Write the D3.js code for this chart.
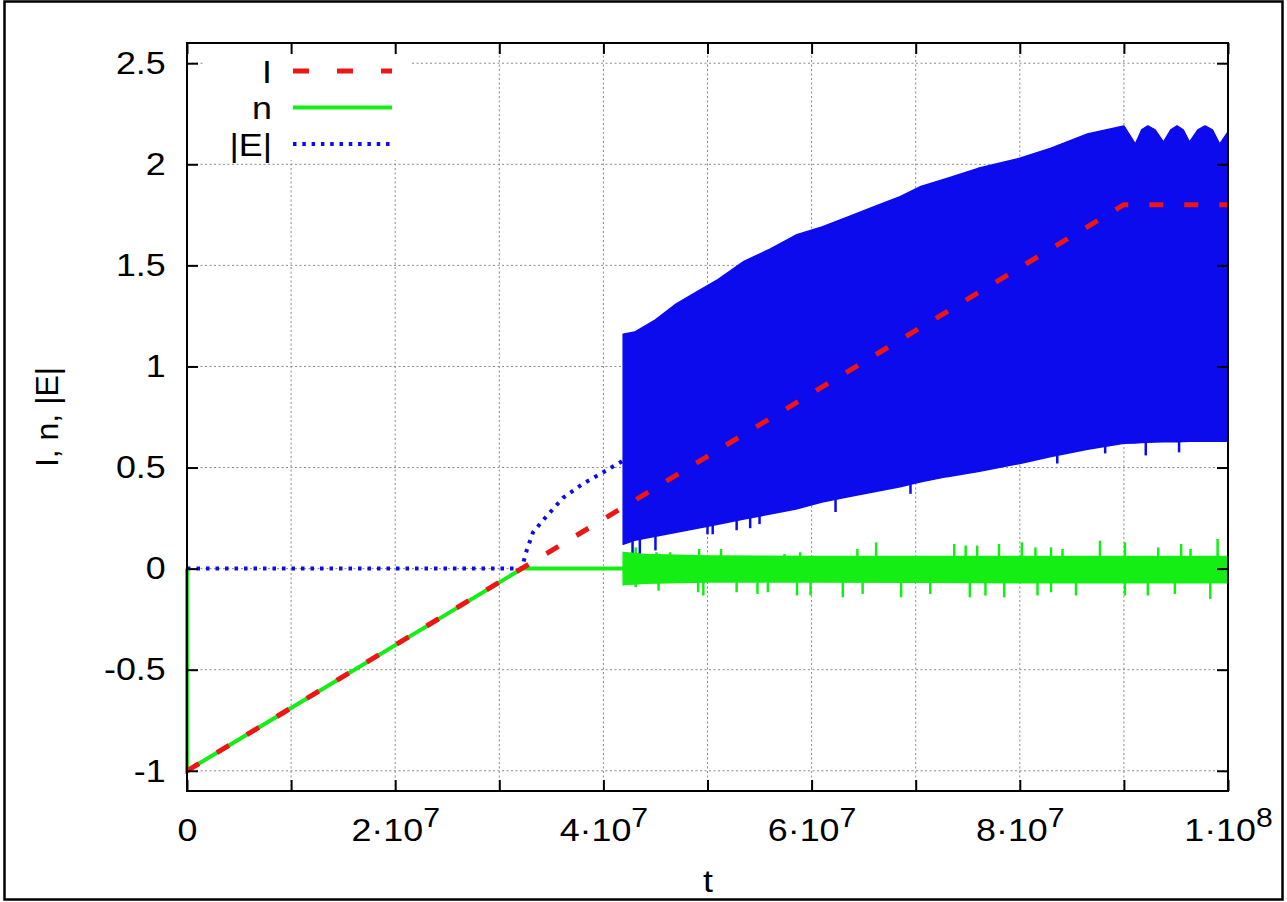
<!DOCTYPE html>
<html>
<head>
<meta charset="utf-8">
<script src="https://cdn.jsdelivr.net/npm/d3@7"></script>
<style>
  body { margin: 0; background: #fff; }
  svg { display: block; font-family: "Liberation Sans", Arial, sans-serif; }
</style>
</head>
<body>
<script>
// axis ticks
var tTicks = [0, 1e7, 2e7, 3e7, 4e7, 5e7, 6e7, 7e7, 8e7, 9e7, 1e8];
var tLabels = ["0", "", "2·10^7", "", "4·10^7", "", "6·10^7", "", "8·10^7", "", "1·10^8"];
var yTicks = [-1, -0.5, 0, 0.5, 1, 1.5, 2, 2.5];
var yLabels = ["-1", "-0.5", "0", "0.5", "1", "1.5", "2", "2.5"];
var legendNames = ["I", "n", "|E|"];

// I (red dashed)
var iT = [0, 9.0e7, 1e8];
var iV = [-1, 1.8, 1.8];

// n (green) smooth part
var nT = [0, 0, 3.22e7, 4.19e7];
var nV = [0, -1, 0, 0];
// n oscillating band
var nBandT = [4.19e7, 4.4e7, 5e7, 6e7, 7e7, 8e7, 9e7, 1e8];
var nBandHi = [0.08, 0.07, 0.062, 0.06, 0.06, 0.06, 0.06, 0.06];
var nBandLo = [-0.08, -0.072, -0.066, -0.066, -0.068, -0.07, -0.07, -0.07];
var nUpT = [4.31e7, 4.51e7, 4.64e7, 4.92e7, 5.13e7, 5.74e7, 5.89e7, 6.44e7, 6.62e7, 7.37e7, 7.48e7, 7.59e7,
            7.80e7, 8.02e7, 8.15e7, 8.30e7, 8.41e7, 8.77e7, 9.01e7, 9.33e7, 9.55e7, 9.64e7, 9.90e7];
var nUpV = [0.105, 0.081, 0.081, 0.097, 0.097, 0.072, 0.081, 0.097, 0.13, 0.122, 0.114, 0.114,
            0.122, 0.13, 0.105, 0.105, 0.097, 0.138, 0.13, 0.105, 0.122, 0.097, 0.147];
var nDnT = [4.31e7, 4.53e7, 4.91e7, 4.96e7, 5.28e7, 5.48e7, 5.58e7, 5.86e7, 5.99e7, 6.30e7, 6.49e7, 6.86e7,
            7.14e7, 7.52e7, 7.67e7, 7.85e7, 8.17e7, 8.30e7, 8.54e7, 9.01e7, 9.23e7, 9.49e7, 9.83e7];
var nDnV = [-0.092, -0.109, -0.117, -0.133, -0.117, -0.125, -0.117, -0.133, -0.133, -0.142, -0.125, -0.142,
            -0.125, -0.142, -0.133, -0.142, -0.133, -0.117, -0.133, -0.133, -0.133, -0.125, -0.15];

// |E| (blue dotted) smooth part
var eT = [0, 3.215e7, 3.263e7, 3.324e7, 3.439e7, 3.612e7, 3.804e7, 3.996e7, 4.176e7, 4.19e7];
var eV = [0, 0, 0.09, 0.18, 0.25, 0.35, 0.42, 0.476, 0.53, 0.535];
// |E| oscillating band envelopes
var eBandT = [4.19e7, 4.3e7, 4.5e7, 4.7e7, 4.9e7, 5.1e7, 5.35e7, 5.6e7, 5.85e7, 6.1e7, 6.35e7, 6.6e7, 6.85e7,
              7.05e7, 7.3e7, 7.6e7, 8.0e7, 8.3e7, 8.65e7, 9.0e7, 9.11e7, 9.17e7, 9.23e7, 9.30e7, 9.38e7,
              9.45e7, 9.51e7, 9.57e7, 9.63e7, 9.71e7, 9.78e7, 9.85e7, 9.92e7, 1e8];
var eBandHi = [1.16, 1.17, 1.23, 1.31, 1.37, 1.43, 1.52, 1.58, 1.65, 1.69, 1.74, 1.79, 1.84,
               1.89, 1.93, 1.98, 2.03, 2.08, 2.15, 2.19, 2.10, 2.17, 2.19, 2.17, 2.11,
               2.17, 2.19, 2.17, 2.11, 2.17, 2.19, 2.17, 2.10, 2.16];
var eBandLo = [0.12, 0.14, 0.16, 0.18, 0.2, 0.22, 0.245, 0.27, 0.295, 0.33, 0.355, 0.38, 0.405,
               0.43, 0.455, 0.48, 0.52, 0.555, 0.59, 0.62, 0.622, 0.624, 0.625, 0.626, 0.627,
               0.628, 0.628, 0.629, 0.63, 0.63, 0.63, 0.63, 0.63, 0.63];
// |E| downward spikes below the band
var eSpT = [4.28e7, 4.35e7, 4.50e7, 5.0e7, 5.05e7, 5.28e7, 5.41e7, 5.50e7, 6.23e7, 6.95e7, 8.36e7, 8.82e7, 9.21e7, 9.53e7];
var eSpTop = [0.15, 0.16, 0.17, 0.23, 0.23, 0.26, 0.27, 0.28, 0.36, 0.43, 0.57, 0.61, 0.63, 0.63];
var eSpBot = [0.05, 0.06, 0.09, 0.17, 0.17, 0.19, 0.2, 0.22, 0.28, 0.37, 0.52, 0.57, 0.56, 0.575];

var W = 1287, H = 902;
var TS = 1.12; // horizontal stretch of the lettering
var svg = d3.select("body").append("svg").attr("width", W).attr("height", H);

var x = d3.scaleLinear().domain([0, 1e8]).range([187, 1228]);
var y = d3.scaleLinear().domain([-1.1, 2.6]).range([791, 43]);

// outer frame
svg.append("rect").attr("x", 4.5).attr("y", 1.5).attr("width", 1278).attr("height", 898)
  .attr("fill", "none").attr("stroke", "#000").attr("stroke-width", 2.5);

// grid
var grid = svg.append("g").attr("stroke", "#8a8a8a").attr("stroke-width", 1).attr("stroke-dasharray", "2,2.5");
grid.selectAll(".gv").data(tTicks.slice(1, -1)).enter().append("line")
  .attr("x1", function(d) { return x(d); }).attr("x2", function(d) { return x(d); })
  .attr("y1", y.range()[0]).attr("y2", y.range()[1]);
grid.selectAll(".gh").data(yTicks).enter().append("line")
  .attr("y1", function(d) { return y(d); }).attr("y2", function(d) { return y(d); })
  .attr("x1", x.range()[0]).attr("x2", x.range()[1]);

// opaque key area
svg.append("rect").attr("x", 204).attr("y", 44).attr("width", 206).attr("height", 116).attr("fill", "#fff");

// series
var lineXY = d3.line().x(function(d) { return x(d[0]); }).y(function(d) { return y(d[1]); });
function pairs(a, b) { return a.map(function(v, i) { return [v, b[i]]; }); }
function bandData(t, hi, lo) { return t.map(function(v, i) { return { t: v, hi: hi[i], lo: lo[i] }; }); }
var band = d3.area().x(function(d) { return x(d.t); })
  .y0(function(d) { return y(d.lo); }).y1(function(d) { return y(d.hi); });

var blue = "#0b0bee", green = "#14ee14", red = "#ee1515";

// |E|
svg.append("path").datum(pairs(eT, eV)).attr("d", lineXY)
  .attr("fill", "none").attr("stroke", blue).attr("stroke-width", 4).attr("stroke-dasharray", "3.5,6");
svg.append("path").datum(bandData(eBandT, eBandHi, eBandLo)).attr("d", band)
  .attr("fill", blue).attr("stroke", blue).attr("stroke-width", 1.5).attr("stroke-linejoin", "round");
svg.selectAll(".esp").data(eSpT).enter().append("line")
  .attr("x1", function(d) { return x(d); }).attr("x2", function(d) { return x(d); })
  .attr("y1", function(d, i) { return y(eSpTop[i]); }).attr("y2", function(d, i) { return y(eSpBot[i]); })
  .attr("stroke", blue).attr("stroke-width", 2.5);

// n
svg.append("path").datum(pairs(nT, nV)).attr("d", lineXY)
  .attr("fill", "none").attr("stroke", green).attr("stroke-width", 4);
svg.append("path").datum(bandData(nBandT, nBandHi, nBandLo)).attr("d", band)
  .attr("fill", green).attr("stroke", green).attr("stroke-width", 1.5);
svg.selectAll(".nup").data(nUpT).enter().append("line")
  .attr("x1", function(d) { return x(d); }).attr("x2", function(d) { return x(d); })
  .attr("y1", y(0)).attr("y2", function(d, i) { return y(nUpV[i]); })
  .attr("stroke", green).attr("stroke-width", 2.5);
svg.selectAll(".ndn").data(nDnT).enter().append("line")
  .attr("x1", function(d) { return x(d); }).attr("x2", function(d) { return x(d); })
  .attr("y1", y(0)).attr("y2", function(d, i) { return y(nDnV[i]); })
  .attr("stroke", green).attr("stroke-width", 2.5);

// I
svg.append("path").datum(pairs(iT, iV)).attr("d", lineXY)
  .attr("fill", "none").attr("stroke", red).attr("stroke-width", 5).attr("stroke-dasharray", "14,21");

// axes (ticks inward, on all four sides)
function styleAxis(g) {
  g.select(".domain").remove();
  g.selectAll(".tick line").attr("stroke", "#000").attr("stroke-width", 2);
  g.selectAll(".tick text").attr("fill", "#000").attr("font-size", 32)
    .attr("font-family", "Liberation Sans, Arial, sans-serif")
    .attr("transform", "scale(" + TS + ",1)");
}
var gx = svg.append("g").attr("transform", "translate(0," + y.range()[0] + ")")
  .call(d3.axisBottom(x).tickValues(tTicks).tickSize(-11).tickPadding(27)
    .tickFormat(function(d, i) { return tLabels[i]; }));
styleAxis(gx);
gx.selectAll(".tick text").each(function() {
  var s = d3.select(this), txt = s.text();
  if (txt.indexOf("^") < 0) return;
  var parts = txt.split("^");
  s.text(null);
  s.append("tspan").text(parts[0]);
  s.append("tspan").attr("dy", -14).attr("font-size", 27).text(parts[1]);
});
var gt = svg.append("g").attr("transform", "translate(0," + y.range()[1] + ")")
  .call(d3.axisTop(x).tickValues(tTicks).tickSize(-11).tickFormat(""));
styleAxis(gt);
var gy = svg.append("g").attr("transform", "translate(" + x.range()[0] + ",0)")
  .call(d3.axisLeft(y).tickValues(yTicks).tickSize(-11).tickPadding(19)
    .tickFormat(function(d, i) { return yLabels[i]; }));
styleAxis(gy);
var gr = svg.append("g").attr("transform", "translate(" + x.range()[1] + ",0)")
  .call(d3.axisRight(y).tickValues(yTicks).tickSize(-11).tickFormat(""));
styleAxis(gr);

// plot frame
svg.append("rect").attr("x", x.range()[0]).attr("y", y.range()[1])
  .attr("width", x.range()[1] - x.range()[0]).attr("height", y.range()[0] - y.range()[1])
  .attr("fill", "none").attr("stroke", "#000").attr("stroke-width", 2);

// axis titles
svg.append("text").attr("transform", "translate(708,892) scale(" + TS + ",1)")
  .attr("text-anchor", "middle").attr("font-size", 32).text("t");
svg.append("text").attr("transform", "translate(58,417) rotate(-90)")
  .attr("text-anchor", "middle").attr("font-size", 32).text("I, n, |E|");

// key
var keyStyles = [
  { c: red, w: 5, dash: "16,28" },
  { c: green, w: 4, dash: null },
  { c: blue, w: 4, dash: "3.5,5.8" }
];
var key = svg.append("g");
legendNames.forEach(function(name, i) {
  var yy = 71 + i * 36.5;
  key.append("text").attr("transform", "translate(272," + (yy + 11.5) + ") scale(" + TS + ",1)")
    .attr("text-anchor", "end").attr("font-size", 32).text(name);
  key.append("line").attr("x1", 293).attr("x2", 392).attr("y1", yy).attr("y2", yy)
    .attr("stroke", keyStyles[i].c).attr("stroke-width", keyStyles[i].w)
    .attr("stroke-dasharray", keyStyles[i].dash);
});
</script>
</body>
</html>
